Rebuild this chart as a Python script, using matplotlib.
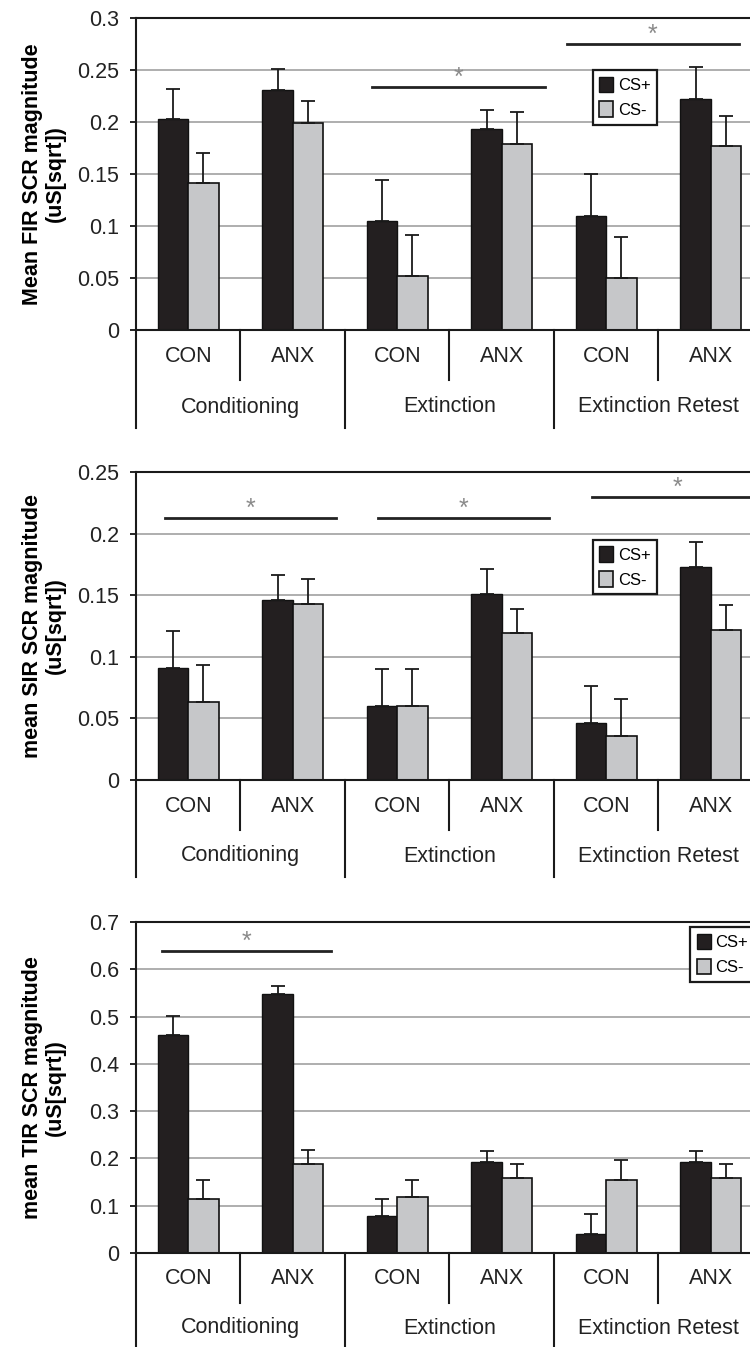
import numpy as np
import matplotlib.pyplot as plt
from matplotlib.transforms import blended_transform_factory

plt.rcParams["font.family"] = ["Liberation Sans", "DejaVu Sans"]

# Data
phases = ["Conditioning", "Extinction", "Extinction Retest"]
groups = ["CON", "ANX", "CON", "ANX", "CON", "ANX"]
legend_labels = ["CS+", "CS-"]

fir_csp = [0.203, 0.231, 0.105, 0.193, 0.110, 0.222]
fir_csp_err = [0.029, 0.020, 0.039, 0.019, 0.040, 0.031]
fir_csm = [0.141, 0.199, 0.052, 0.179, 0.050, 0.177]
fir_csm_err = [0.029, 0.021, 0.039, 0.031, 0.039, 0.029]

sir_csp = [0.091, 0.146, 0.060, 0.151, 0.046, 0.173]
sir_csp_err = [0.030, 0.020, 0.030, 0.020, 0.030, 0.020]
sir_csm = [0.063, 0.143, 0.060, 0.119, 0.036, 0.122]
sir_csm_err = [0.030, 0.020, 0.030, 0.020, 0.030, 0.020]

tir_csp = [0.462, 0.547, 0.079, 0.193, 0.041, 0.193]
tir_csp_err = [0.040, 0.018, 0.036, 0.022, 0.041, 0.022]
tir_csm = [0.115, 0.189, 0.119, 0.159, 0.155, 0.159]
tir_csm_err = [0.039, 0.029, 0.036, 0.029, 0.041, 0.029]

# significance lines: (x start, x end, y)
fir_sig = [(2.26, 3.91, 0.234), (4.12, 5.77, 0.275)]
sir_sig = [(0.28, 1.91, 0.213), (2.32, 3.95, 0.213), (4.36, 6.0, 0.230)]
tir_sig = [(0.25, 1.87, 0.639)]

FIG_W, FIG_H = 750, 1347
fig = plt.figure(figsize=(FIG_W / 100, FIG_H / 100), dpi=100)

AX_LEFT, AX_RIGHT = 136, 763
BLACK = "#231f20"
GREY = "#c6c7c9"


def draw_panel(top_px, bot_px, csp, csp_err, csm, csm_err, ymax, ystep, ylabel,
               sig, legend_xy, depths):
    h_px = bot_px - top_px
    ax = fig.add_axes([AX_LEFT / FIG_W, 1 - bot_px / FIG_H,
                       (AX_RIGHT - AX_LEFT) / FIG_W, h_px / FIG_H])
    x = np.arange(6) + 0.5
    w = 0.29
    b1 = ax.bar(x - w / 2, csp, w, color=BLACK, edgecolor="#111111", lw=1, zorder=2, label=legend_labels[0])
    b2 = ax.bar(x + w / 2, csm, w, color=GREY, edgecolor="#111111", lw=1.2, zorder=2, label=legend_labels[1])
    ax.errorbar(x - w / 2, csp, yerr=[np.zeros(6), csp_err], fmt="none", ecolor="#1a1a1a",
                elinewidth=1.3, capsize=5, capthick=1.3, zorder=3)
    ax.errorbar(x + w / 2, csm, yerr=[np.zeros(6), csm_err], fmt="none", ecolor="#1a1a1a",
                elinewidth=1.3, capsize=5, capthick=1.3, zorder=3)

    ax.set_xlim(0, 6)
    ax.set_ylim(0, ymax)
    ticks = np.round(np.arange(0, ymax + ystep / 2, ystep), 3)
    ax.set_yticks(ticks)
    ax.set_yticklabels([("%g" % t) for t in ticks], fontsize=15.5, color="#222222")
    ax.tick_params(axis="y", length=4, width=1.2, pad=8)
    ax.set_xticks([])
    ax.yaxis.grid(True, color="#a8a8a8", lw=1.3)
    ax.set_axisbelow(True)
    ax.spines["right"].set_visible(False)
    for s in ["left", "bottom", "top"]:
        ax.spines[s].set_linewidth(1.5)
        ax.spines[s].set_color("#1a1a1a")

    ax.set_ylabel(ylabel, fontsize=15.5, fontweight="bold", linespacing=1.1)
    ax.yaxis.set_label_coords(-(AX_LEFT - 66) / (AX_RIGHT - AX_LEFT), 0.5)

    # category axis below the plot
    lab_px, grp_px, short_px, long_px = depths
    tr = blended_transform_factory(ax.transData, ax.transAxes)
    for xs in [1, 3, 5]:
        ax.plot([xs, xs], [0, -short_px / h_px], color="#1a1a1a", lw=1.5, transform=tr, clip_on=False)
    for xs in [0, 2, 4]:
        ax.plot([xs, xs], [0, -long_px / h_px], color="#1a1a1a", lw=1.5, transform=tr, clip_on=False)
    for xi, g in zip(x, groups):
        ax.text(xi, -lab_px / h_px, g, transform=tr, ha="center", va="center", fontsize=15.5, color="#222222")
    for i, p in enumerate(phases):
        ax.text(2 * i + 1, -grp_px / h_px, p, transform=tr, ha="center", va="center", fontsize=15.5, color="#222222")

    # significance markers
    for x0, x1, y in sig:
        ax.plot([x0, x1], [y, y], color="#222222", lw=2, clip_on=False, zorder=4)
        ax.annotate("*", xy=((x0 + x1) / 2, y), xytext=(0, -2), textcoords="offset points",
                    ha="center", va="bottom", fontsize=18, color="#8a8a8a")

    leg = ax.legend(handles=[b1, b2], loc="upper left", bbox_to_anchor=legend_xy,
                    bbox_transform=ax.transData, borderaxespad=0, fontsize=12,
                    fancybox=False, edgecolor="#1a1a1a", framealpha=1,
                    handlelength=0.85, handleheight=1.05, handletextpad=0.25,
                    labelspacing=0.5, borderpad=0.4)
    leg.get_frame().set_linewidth(1.6)
    return ax


draw_panel(18, 330, fir_csp, fir_csp_err, fir_csm, fir_csm_err, 0.3, 0.05,
           "Mean FIR SCR magnitude\n(uS[sqrt])", fir_sig, (4.37, 0.25),
           (26, 77, 50, 98))
draw_panel(472, 780, sir_csp, sir_csp_err, sir_csm, sir_csm_err, 0.25, 0.05,
           "mean SIR SCR magnitude\n(uS[sqrt])", sir_sig, (4.37, 0.195),
           (26, 76, 50, 97))
draw_panel(922, 1253, tir_csp, tir_csp_err, tir_csm, tir_csm_err, 0.7, 0.1,
           "mean TIR SCR magnitude\n(uS[sqrt])", tir_sig, (5.30, 0.689),
           (26, 75, 50, 110))

fig.savefig("out.png", dpi=100)
